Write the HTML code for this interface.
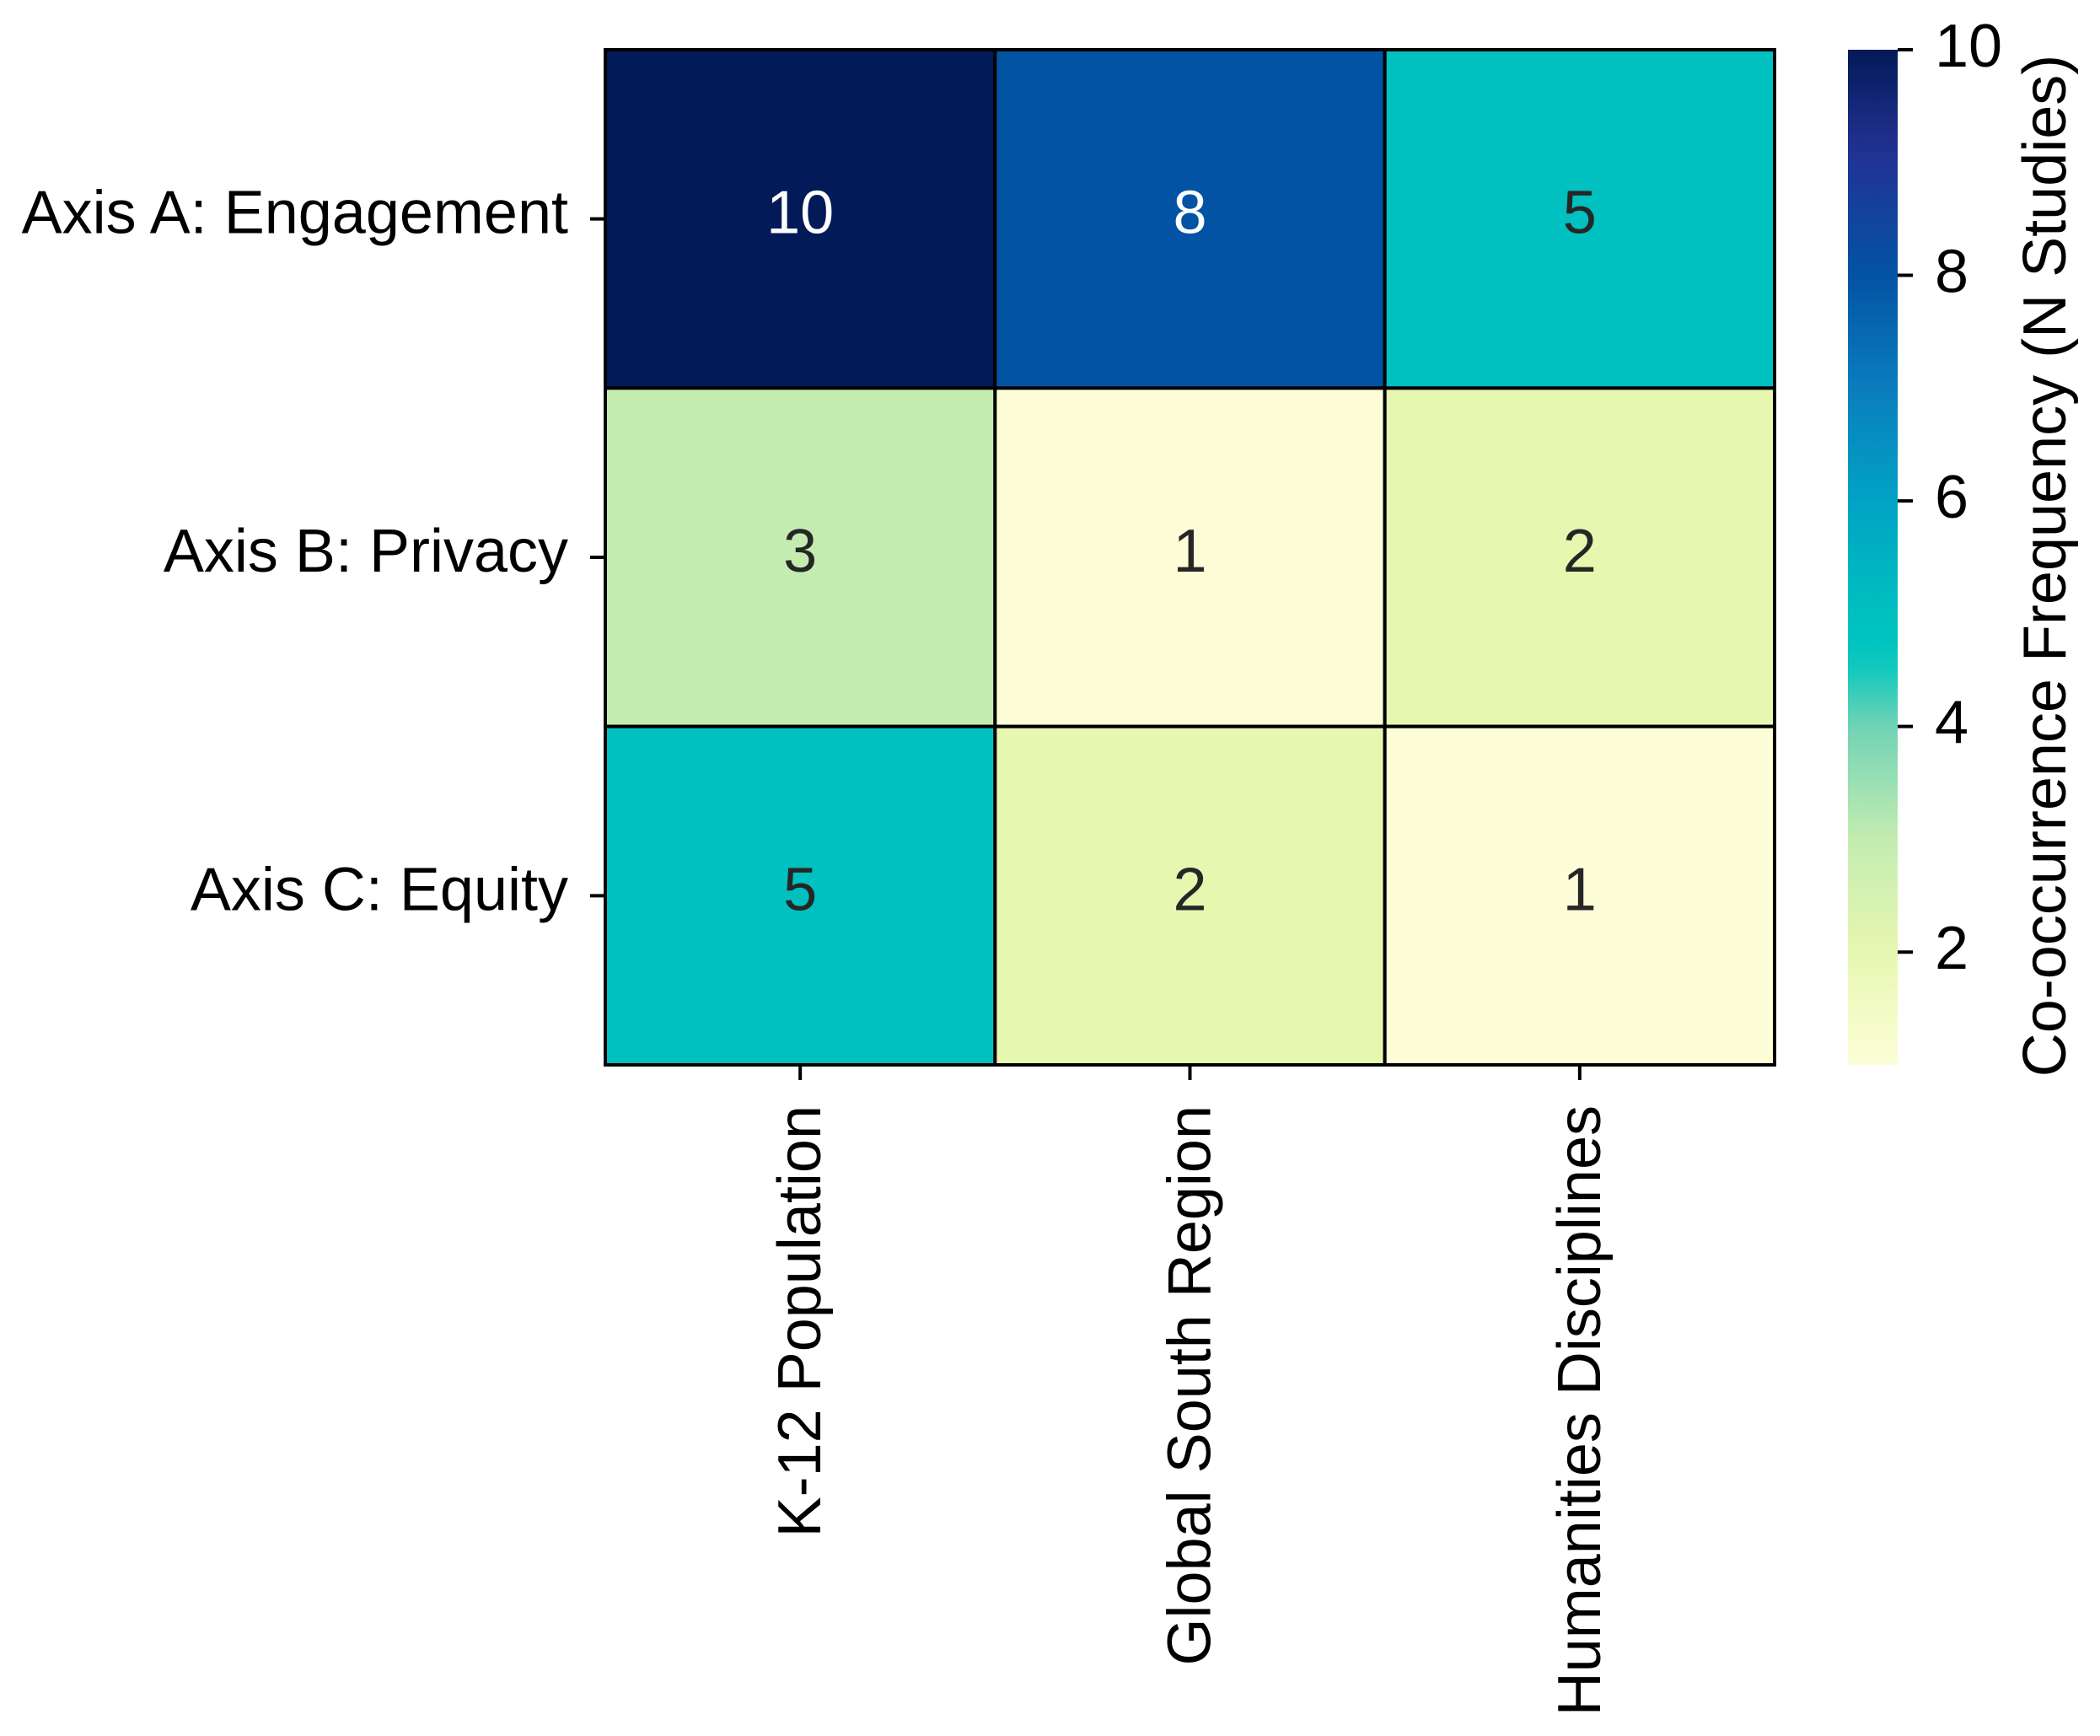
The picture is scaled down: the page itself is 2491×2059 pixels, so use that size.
<!DOCTYPE html>
<html><head><meta charset="utf-8"><style>
html,body{margin:0;padding:0;background:#fff;}
svg{display:block;font-family:"Liberation Sans",Arial,sans-serif;}
</style></head><body>
<svg id="chart" width="2491" height="2059" viewBox="0 0 2491 2059">
<defs>
<linearGradient id="cbgrad" x1="0" y1="1" x2="0" y2="0"></linearGradient>
</defs>
<g id="cells"></g>
<g id="yaxis"></g>
<g id="xaxis"></g>
<g id="cbar"></g>
</svg>
<script>
const rowLabels = ["Axis A: Engagement", "Axis B: Privacy", "Axis C: Equity"];
const colLabels = ["K-12 Population", "Global South Region", "Humanities Disciplines"];
const values = [[10, 8, 5], [3, 1, 2], [5, 2, 1]];
const cbTicks = [2, 4, 6, 8, 10];
const vmin = 1, vmax = 10;

const NS = "http://www.w3.org/2000/svg";
const L = 718, R = 2105, T = 59, B = 1263;
const CBL = 2192, CBR = 2251;
const FS = 72;
const stops = [[1,"#fdfed8"],[2,"#e6f7b0"],[3,"#c4ecb1"],[4,"#70d3b5"],[4.6,"#00c6c0"],[5,"#00c0c0"],[6,"#00a3c4"],[7,"#0a7dbd"],[8,"#0353a4"],[9.1,"#233193"],[10,"#031a58"]];
function hex(h){return [1,3,5].map(i=>parseInt(h.substr(i,2),16));}
function color(v){
  for(let i=0;i<stops.length-1;i++){
    const [a,ca]=stops[i],[b,cb]=stops[i+1];
    if(v<=b){const t=(v-a)/(b-a);const x=hex(ca),y=hex(cb);
      return "rgb("+x.map((c,k)=>Math.round(c+(y[k]-c)*t)).join(",")+")";}
  }
  return stops[stops.length-1][1];
}
function mk(tag,attrs,parent){const e=document.createElementNS(NS,tag);for(const k in attrs)e.setAttribute(k,attrs[k]);parent.appendChild(e);return e;}
const nR=rowLabels.length,nC=colLabels.length;
const cw=(R-L)/nC,ch=(B-T)/nR;
const xC=j=>L+cw*(j+0.5), yC=i=>T+ch*(i+0.5);
const cells=document.getElementById("cells");
values.forEach((row,i)=>row.forEach((v,j)=>{
  const r=mk("rect",{x:L+cw*j,y:T+ch*i,width:cw,height:ch,fill:color(v),stroke:"#000","stroke-width":4},cells);
  
  
  const t=mk("text",{x:xC(j),y:yC(i)+17,"text-anchor":"middle","font-size":FS,fill:v>=6?"#fff":"#262626"},cells);
  t.textContent=v;
  
  
}));
const ya=document.getElementById("yaxis");
rowLabels.forEach((lab,i)=>{
  const tk=mk("line",{x1:L-18,x2:L,y1:yC(i),y2:yC(i),stroke:"#000","stroke-width":4},ya);
  
  
  const t=mk("text",{x:L-44,y:yC(i)+17,"text-anchor":"end","font-size":FS,fill:"#000"},ya);
  t.textContent=lab;
  
  
});
const xa=document.getElementById("xaxis");
colLabels.forEach((lab,j)=>{
  const tk=mk("line",{x1:xC(j),x2:xC(j),y1:B,y2:B+18,stroke:"#000","stroke-width":4},xa);
  
  
  const t=mk("text",{x:0,y:0,"text-anchor":"end","font-size":FS,fill:"#000",transform:"translate("+(xC(j)+24)+","+(B+48)+") rotate(-90)"},xa);
  t.textContent=lab;
  
  
});
const g=document.getElementById("cbgrad");
for(let k=0;k<=36;k++){const v=vmin+(vmax-vmin)*k/36;mk("stop",{offset:(k/36*100)+"%","stop-color":color(v)},g);}
const cb=document.getElementById("cbar");
const cy=v=>B-(v-vmin)/(vmax-vmin)*(B-T);
const cr=mk("rect",{x:CBL,y:T,width:CBR-CBL,height:B-T,fill:"url(#cbgrad)"},cb);


cbTicks.forEach(v=>{
  const tk=mk("line",{x1:CBR,x2:CBR+18,y1:cy(v),y2:cy(v),stroke:"#000","stroke-width":4},cb);
  
  
  const t=mk("text",{x:CBR+44,y:cy(v)+20,"font-size":FS,fill:"#000"},cb);
  t.textContent=v;
  
  
});
const lt=mk("text",{x:0,y:0,"text-anchor":"middle","font-size":FS,fill:"#000",transform:"translate(2450,"+((T+B)/2+10)+") rotate(-90)"},cb);
lt.textContent="Co-occurrence Frequency (N Studies)";


</script>
</body></html>
